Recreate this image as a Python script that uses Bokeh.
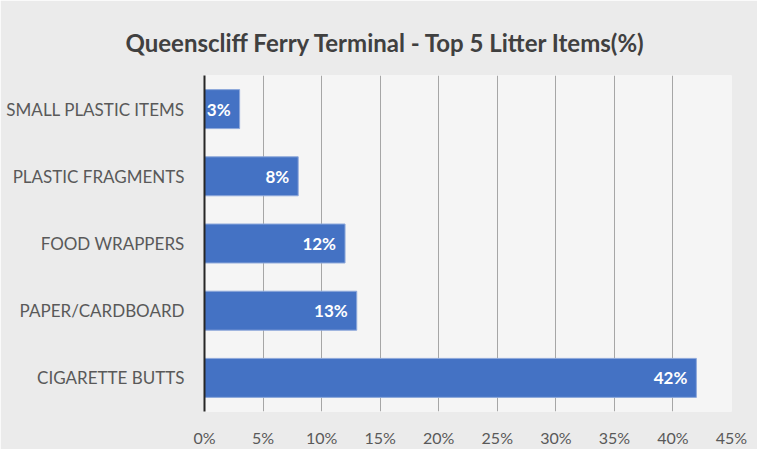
from bokeh.plotting import figure
from bokeh.models import ColumnDataSource, Range1d, FactorRange, PrintfTickFormatter, FixedTicker, LabelSet
from bokeh.core.properties import value
from bokeh.embed import file_html
from bokeh.resources import INLINE

categories = ["SMALL PLASTIC ITEMS", "PLASTIC FRAGMENTS", "FOOD WRAPPERS", "PAPER/CARDBOARD", "CIGARETTE BUTTS"]
values = [3, 8, 12, 13, 42]
labels = [f"{v}%" for v in values]
x_ticks = [0, 5, 10, 15, 20, 25, 30, 35, 40, 45]

FONT = "Lato"

src = ColumnDataSource(dict(cat=categories, val=values, lab=labels))

p = figure(width=757, height=449, output_backend="svg", toolbar_location=None,
           y_range=FactorRange(factors=categories[::-1]), x_range=Range1d(0, 45),
           title="Queenscliff Ferry Terminal - Top 5 Litter Items(%)",
           min_border_left=204, min_border_right=26, min_border_top=75, min_border_bottom=32)

p.hbar(y="cat", right="val", height=0.58, source=src, fill_color="#4472C4",
       line_color="#8EA9DB", line_width=1)

p.add_layout(LabelSet(x="val", y="cat", text="lab", source=src, x_offset=-9,
                      text_align="right", text_baseline="middle", text_color="white",
                      text_font=value(FONT), text_font_style="bold", text_font_size="17px"))

p.title.align = "left"
p.title.offset = -79
p.title.text_font = FONT
p.title.text_font_size = "24px"
p.title.text_font_style = "bold"
p.title.text_color = "#404040"
p.title.standoff = 38

p.border_fill_color = "#EBEBEB"
p.background_fill_color = "#F5F5F5"
p.outline_line_color = None

p.xaxis.ticker = FixedTicker(ticks=x_ticks)
p.xaxis.formatter = PrintfTickFormatter(format="%d%%")
p.xaxis.axis_line_color = None
p.xaxis.major_tick_line_color = None
p.xaxis.minor_tick_line_color = None
p.xaxis.major_label_text_font = FONT
p.xaxis.major_label_text_font_size = "16px"
p.xaxis.major_label_text_color = "#595959"
p.xaxis.major_label_standoff = 10

p.yaxis.axis_line_color = "#262626"
p.yaxis.axis_line_width = 2
p.yaxis.major_tick_line_color = None
p.yaxis.minor_tick_line_color = None
p.yaxis.major_label_text_font = FONT
p.yaxis.major_label_text_font_size = "17px"
p.yaxis.major_label_text_color = "#595959"
p.yaxis.major_label_standoff = 14

p.xgrid.grid_line_color = "#A6A6A6"
p.xgrid.grid_line_width = 1
p.ygrid.grid_line_color = None

open("out.html", "w").write(file_html(p, INLINE))
